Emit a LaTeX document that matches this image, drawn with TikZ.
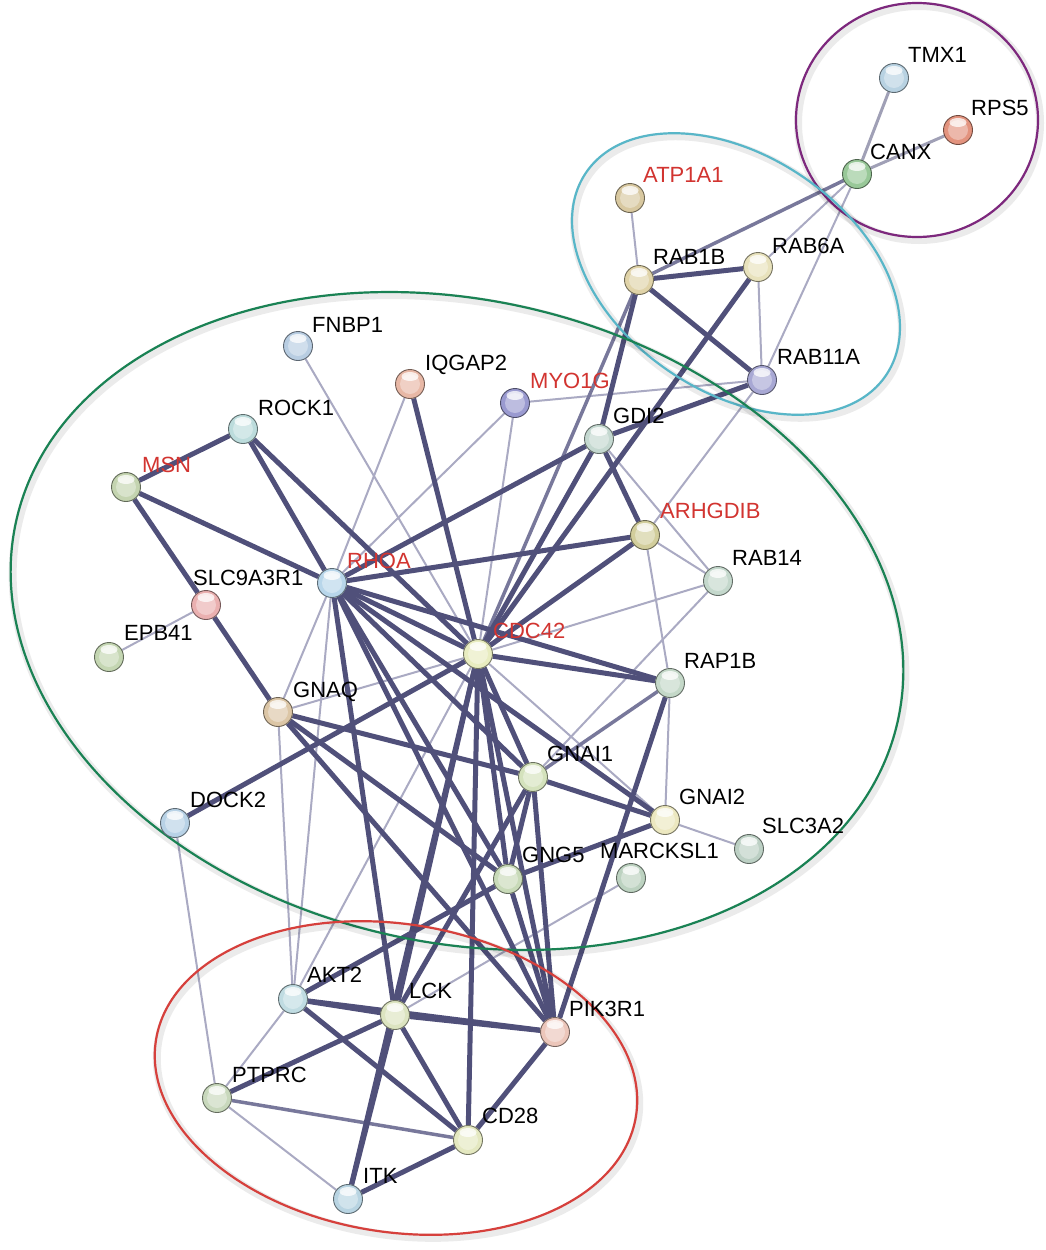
\documentclass[tikz,border=0pt]{standalone}
\usepackage{fontspec}
\setmainfont{Liberation Sans}
\usetikzlibrary{calc}
\pgfdeclarelayer{paper}
\pgfdeclarelayer{edges}
\pgfdeclarelayer{rings}
\pgfsetlayers{paper,edges,rings,main}
\definecolor{edgeS}{RGB}{80,80,122}
\definecolor{edgeM}{RGB}{120,120,155}
\definecolor{edgeL}{RGB}{160,160,182}
\definecolor{edgeW}{RGB}{170,170,195}
\definecolor{lblred}{RGB}{210,52,48}
\definecolor{ringP}{RGB}{125,40,125}
\definecolor{ringC}{RGB}{88,182,200}
\definecolor{ringG}{RGB}{26,130,84}
\definecolor{ringR}{RGB}{214,64,60}
\tikzset{
  gene/.style={circle, minimum size=29pt, inner sep=0pt, fill=#1, draw=#1!50!black, line width=0.9pt,
    path picture={
      \fill[white, opacity=0.35] (path picture bounding box.center) circle [radius=10];
      \fill[white, opacity=0.75] ([yshift=7.5pt]path picture bounding box.center) ellipse [x radius=8.5, y radius=4.5];
    }},
  glabel/.style={anchor=base west, inner sep=0pt},
  es/.style={draw=edgeS, line width=5pt},
  em/.style={draw=edgeM, line width=3.5pt},
  el/.style={draw=edgeL, line width=3pt},
  ew/.style={draw=edgeW, line width=2pt},
  ring/.style={line width=2.2pt},
  ringshadow/.style={line width=8pt, draw=black, opacity=0.08},
}
% name, x, y, fill (HTML), label colour, dx, dy
\newcommand{\gn}[7]{%
  \definecolor{c#1}{HTML}{#4}%
  \node[gene=c#1] (#1) at (#2,#3) {};
  \node[glabel, text=#5] (#1-lab) at ($(#1)+(#6,#7)$) {#1};
}
\begin{document}
\begin{tikzpicture}[x=1pt,y=-1pt, font=\fontsize{22}{24}\selectfont]
\useasboundingbox (0,0) rectangle (1045,1250);
\begin{pgfonlayer}{paper}
\fill[white] (0,0) rectangle (1045,1250);
\end{pgfonlayer}

\gn{TMX1}{894}{78}{B8D2E2}{black}{14}{-16}
\gn{RPS5}{958}{130}{E3937E}{black}{13}{-15}
\gn{CANX}{857}{174}{98C898}{black}{13}{-15}
\gn{ATP1A1}{630}{198}{D8C8A0}{lblred}{13}{-16}
\gn{RAB1B}{639}{280}{E0D3A8}{black}{14}{-16}
\gn{RAB6A}{758}{267}{E8E2BC}{black}{14}{-14}
\gn{RAB11A}{762}{380}{A8A8D4}{black}{15}{-16}
\gn{FNBP1}{298}{346}{B8CDE2}{black}{14}{-14}
\gn{IQGAP2}{410}{384}{E8B8A6}{black}{15}{-14}
\gn{MYO1G}{515}{403}{9A9AD0}{lblred}{15}{-15}
\gn{GDI2}{599}{439}{C4D8D0}{black}{14}{-16}
\gn{ROCK1}{243}{429}{BCDCDC}{black}{15}{-14}
\gn{MSN}{126}{487}{C4D4B0}{lblred}{16}{-15}
\gn{ARHGDIB}{645}{535}{D2CE9C}{lblred}{15}{-17}
\gn{RAB14}{718}{581}{C4D8CC}{black}{14}{-16}
\gn{RHOA}{332}{583}{B8D6EA}{lblred}{15}{-15}
\gn{SLC9A3R1}{206}{605}{EAB0B0}{black}{-13}{-20}
\gn{EPB41}{109}{657}{C4D6B2}{black}{15}{-17}
\gn{CDC42}{478}{654}{E8ECC0}{lblred}{15}{-16}
\gn{RAP1B}{670}{683}{C4D8C8}{black}{14}{-15}
\gn{GNAQ}{278}{712}{DCC6A6}{black}{15}{-15}
\gn{GNAI1}{533}{777}{D4E2BC}{black}{14}{-16}
\gn{GNAI2}{665}{820}{ECE8C0}{black}{14}{-16}
\gn{SLC3A2}{749}{849}{BCD0C4}{black}{13}{-16}
\gn{DOCK2}{175}{823}{B8D2E6}{black}{15}{-16}
\gn{GNG5}{508}{879}{C8DAB8}{black}{14}{-17}
\gn{MARCKSL1}{631}{878}{BCD2C0}{black}{-31}{-20}
\gn{AKT2}{293}{999}{C0DCE2}{black}{14}{-17}
\gn{LCK}{395}{1015}{DCE4C0}{black}{14}{-17}
\gn{PIK3R1}{555}{1032}{ECC6BA}{black}{14}{-16}
\gn{PTPRC}{217}{1098}{C8D8BC}{black}{15}{-16}
\gn{CD28}{468}{1140}{E4E8C0}{black}{14}{-17}
\gn{ITK}{348}{1199}{B8D4E2}{black}{15}{-16}

\begin{pgfonlayer}{edges}
% weak
\foreach \a/\b in {CANX/RAB6A, CANX/RAB11A, ATP1A1/RAB1B, RAB6A/RAB11A,
  RAB11A/MYO1G, RAB11A/ARHGDIB, SLC9A3R1/EPB41, FNBP1/CDC42, IQGAP2/RHOA,
  MYO1G/RHOA, MYO1G/CDC42, GDI2/RAB14, ARHGDIB/RAB14, ARHGDIB/RAP1B,
  RAB14/CDC42, RAB14/GNAI1, RHOA/GNAQ, RHOA/AKT2, CDC42/GNAQ, CDC42/AKT2,
  CDC42/GNAI2, RAP1B/GNAI2, GNAQ/AKT2, GNAI2/SLC3A2, MARCKSL1/LCK,
  DOCK2/PTPRC, AKT2/PTPRC, PTPRC/ITK}
  \draw[ew] (\a) -- (\b);
% light medium
\foreach \a/\b in {TMX1/CANX, RPS5/CANX}
  \draw[el] (\a) -- (\b);
% medium
\foreach \a/\b in {CANX/RAB1B, RAB1B/CDC42, RAP1B/GNAI1, PTPRC/CD28}
  \draw[em] (\a) -- (\b);
% strong
\foreach \a/\b in {RAB1B/RAB6A, RAB1B/RAB11A, RAB1B/GDI2, RAB6A/CDC42, RAB11A/GDI2,
  MSN/ROCK1, MSN/RHOA, MSN/SLC9A3R1, SLC9A3R1/GNAQ, ROCK1/RHOA, ROCK1/CDC42,
  IQGAP2/CDC42, GDI2/RHOA, GDI2/CDC42, GDI2/ARHGDIB, ARHGDIB/RHOA, ARHGDIB/CDC42,
  RHOA/CDC42, RHOA/RAP1B, RHOA/LCK, RHOA/PIK3R1, RHOA/GNG5, RHOA/GNAI1, RHOA/GNAI2,
  CDC42/RAP1B, CDC42/DOCK2, CDC42/GNAI1, CDC42/GNG5, CDC42/LCK, CDC42/PIK3R1,
  CDC42/CD28, CDC42/ITK, RAP1B/PIK3R1, GNAQ/GNAI1, GNAQ/GNG5, GNAQ/PIK3R1,
  GNAI1/GNAI2, GNAI1/GNG5, GNAI1/LCK, GNAI1/PIK3R1, GNAI2/GNG5, GNG5/AKT2, GNG5/PIK3R1,
  AKT2/LCK, AKT2/PIK3R1, AKT2/CD28, LCK/PIK3R1, LCK/PTPRC, LCK/CD28, LCK/ITK,
  PIK3R1/CD28, ITK/CD28}
  \draw[es] (\a) -- (\b);
\end{pgfonlayer}

\begin{pgfonlayer}{rings}
\draw[ringshadow] ([xshift=2pt,yshift=-3pt]917,120) ellipse [x radius=121, y radius=117];
\draw[ring, draw=ringP] (917,120) ellipse [x radius=121, y radius=117];
\draw[ringshadow, rotate around={-34:(738,277)}] (738,277) ellipse [x radius=181, y radius=118];
\draw[ring, draw=ringC, rotate around={-34:(736,274)}] (736,274) ellipse [x radius=181, y radius=118];
\draw[ringshadow, rotate around={-13:(459,624)}] (459,624) ellipse [x radius=452, y radius=321];
\draw[ring, draw=ringG, rotate around={-13:(457,621)}] (457,621) ellipse [x radius=452, y radius=321];
\draw[ringshadow, rotate around={-9:(398,1081)}] (398,1081) ellipse [x radius=243, y radius=154];
\draw[ring, draw=ringR, rotate around={-9:(396,1078)}] (396,1078) ellipse [x radius=243, y radius=154];
\end{pgfonlayer}
\end{tikzpicture}
\end{document}
